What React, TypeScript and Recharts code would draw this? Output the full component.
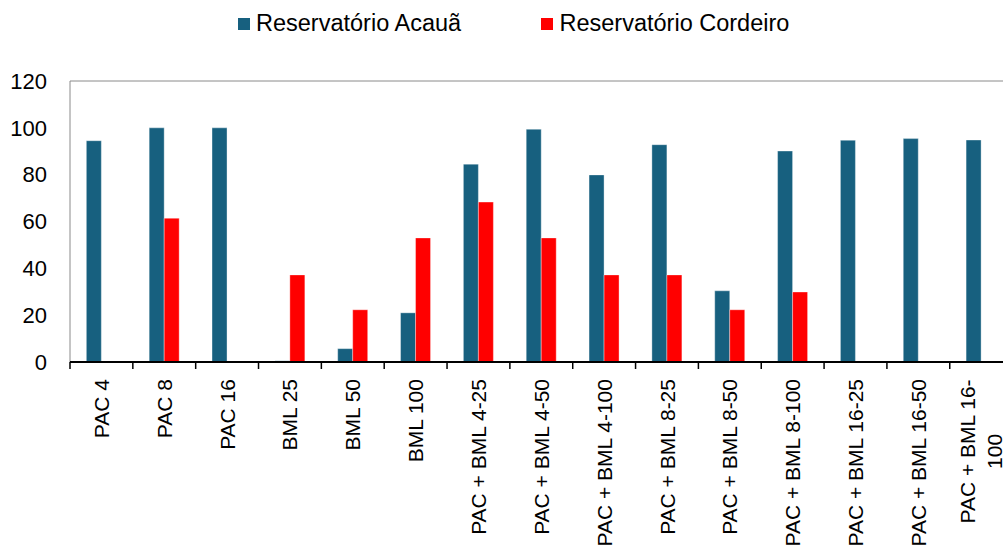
import React from 'react';
import { BarChart, Bar, XAxis, YAxis, ReferenceLine } from 'recharts';

const categories = [
  'PAC 4', 'PAC 8', 'PAC 16', 'BML 25', 'BML 50', 'BML 100',
  'PAC + BML 4-25', 'PAC + BML 4-50', 'PAC + BML 4-100',
  'PAC + BML 8-25', 'PAC + BML 8-50', 'PAC + BML 8-100',
  'PAC + BML 16-25', 'PAC + BML 16-50', 'PAC + BML 16-100',
];
const acaua = [94.5, 100, 100, 0.5, 5.7, 21, 84.5, 99.4, 79.9, 92.8, 30.4, 90.1, 94.7, 95.4, 94.8];
const cordeiro = [0, 61.4, 0, 37.2, 22.3, 53, 68.3, 53, 37.2, 37.2, 22.3, 29.9, 0, 0, 0];
const yTicks = [0, 20, 40, 60, 80, 100, 120];
const seriesNames = ['Reservatório Acauã', 'Reservatório Cordeiro'];
const seriesColors = ['#17607f', '#ff0000'];

const data = categories.map((c, i) => ({ name: c, acaua: acaua[i], cordeiro: cordeiro[i] }));

const FONT = "'Liberation Sans', Arial, sans-serif";
const CHART_W = 1020;
const CHART_H = 553;
const MARGIN = { top: 81, right: 7.4, left: 0, bottom: 0 };
const Y_W = 70;
const X_H = 191;
const PLOT_W = CHART_W - MARGIN.left - MARGIN.right - Y_W;
const BAND = PLOT_W / categories.length;
const X_FONT = 21;
const LINE_GAP = 27;

function wrapLabel(s: string): string[] {
  const max = 15;
  if (s.length <= max) return [s];
  const head = s.slice(0, max);
  const idx = Math.max(head.lastIndexOf('-'), head.lastIndexOf(' '));
  if (idx <= 0) return [s];
  const first = s.slice(0, idx + 1).trimEnd();
  const rest = s.slice(idx + 1).trimStart();
  return [first, ...wrapLabel(rest)];
}

let ctx: CanvasRenderingContext2D | null = null;
function measure(t: string): number {
  try {
    if (!ctx) ctx = document.createElement('canvas').getContext('2d');
    if (ctx) {
      ctx.font = `${X_FONT}px ${FONT}`;
      return ctx.measureText(t).width;
    }
  } catch (e) {}
  return t.length * X_FONT * 0.55;
}

function XTick(props: any) {
  const { x, y, payload, index } = props;
  const lines = wrapLabel(String(payload.value));
  const y0 = y + 17;
  const left = x - BAND / 2;
  const els: any[] = [];
  els.push(<line key="t0" x1={left} x2={left} y1={y} y2={y + 7} stroke="#000" strokeWidth={1.5} />);
  if (index === categories.length - 1) {
    els.push(<line key="t1" x1={x + BAND / 2} x2={x + BAND / 2} y1={y} y2={y + 7} stroke="#000" strokeWidth={1.5} />);
  }
  if (lines.length === 1) {
    els.push(
      <text key="l0" x={x} y={y0} dy="0.36em" textAnchor="end" transform={`rotate(-90, ${x}, ${y0})`}
        fontFamily={FONT} fontSize={X_FONT} fill="#000">{lines[0]}</text>
    );
  } else {
    const maxW = Math.max(...lines.map(measure));
    const yc = y0 + maxW / 2;
    lines.forEach((ln, i) => {
      const lx = x + (i - (lines.length - 1) / 2) * LINE_GAP;
      els.push(
        <text key={'l' + i} x={lx} y={yc} dy="0.36em" textAnchor="middle" transform={`rotate(-90, ${lx}, ${yc})`}
          fontFamily={FONT} fontSize={X_FONT} fill="#000">{ln}</text>
      );
    });
  }
  return <g>{els}</g>;
}

export default function App() {
  return (
    <div style={{ position: 'absolute', left: 0, top: 0, width: 1003, height: 553, overflow: 'hidden', background: '#fff' }}>
      {seriesNames.map((n, i) => (
        <div key={n} style={{
          position: 'absolute', top: 12, left: i === 0 ? 237.5 : 541, height: 23.5,
          display: 'flex', alignItems: 'center', fontFamily: FONT, fontSize: 23.5, lineHeight: '23.5px',
          color: '#000', whiteSpace: 'nowrap',
        }}>
          <span style={{ display: 'inline-block', width: 12, height: 12, background: seriesColors[i], marginRight: 6.5 }} />
          <span>{n}</span>
        </div>
      ))}
      <div style={{ position: 'absolute', left: 0, top: 0 }}>
        <BarChart width={CHART_W} height={CHART_H} data={data} margin={MARGIN} barCategoryGap="26%" barGap={0}>
          <YAxis
            width={Y_W}
            domain={[0, 120]}
            ticks={yTicks}
            interval={0}
            axisLine={{ stroke: '#8a8a8a', strokeWidth: 1 }}
            tickLine={false}
            tickSize={0}
            tickMargin={23}
            tick={{ fontFamily: FONT, fontSize: 22, fill: '#000' }}
          />
          <XAxis
            dataKey="name"
            height={X_H}
            interval={0}
            axisLine={{ stroke: '#000', strokeWidth: 2 }}
            tickLine={false}
            tickSize={0}
            tickMargin={0}
            tick={<XTick />}
          />
          <ReferenceLine y={120} stroke="#8a8a8a" strokeWidth={1} />
          <Bar dataKey="acaua" name={seriesNames[0]} fill={seriesColors[0]} stroke="#ffffff" strokeOpacity={0.45} strokeWidth={0.8} isAnimationActive={false} />
          <Bar dataKey="cordeiro" name={seriesNames[1]} fill={seriesColors[1]} stroke="#ffffff" strokeOpacity={0.45} strokeWidth={0.8} isAnimationActive={false} />
        </BarChart>
      </div>
    </div>
  );
}
